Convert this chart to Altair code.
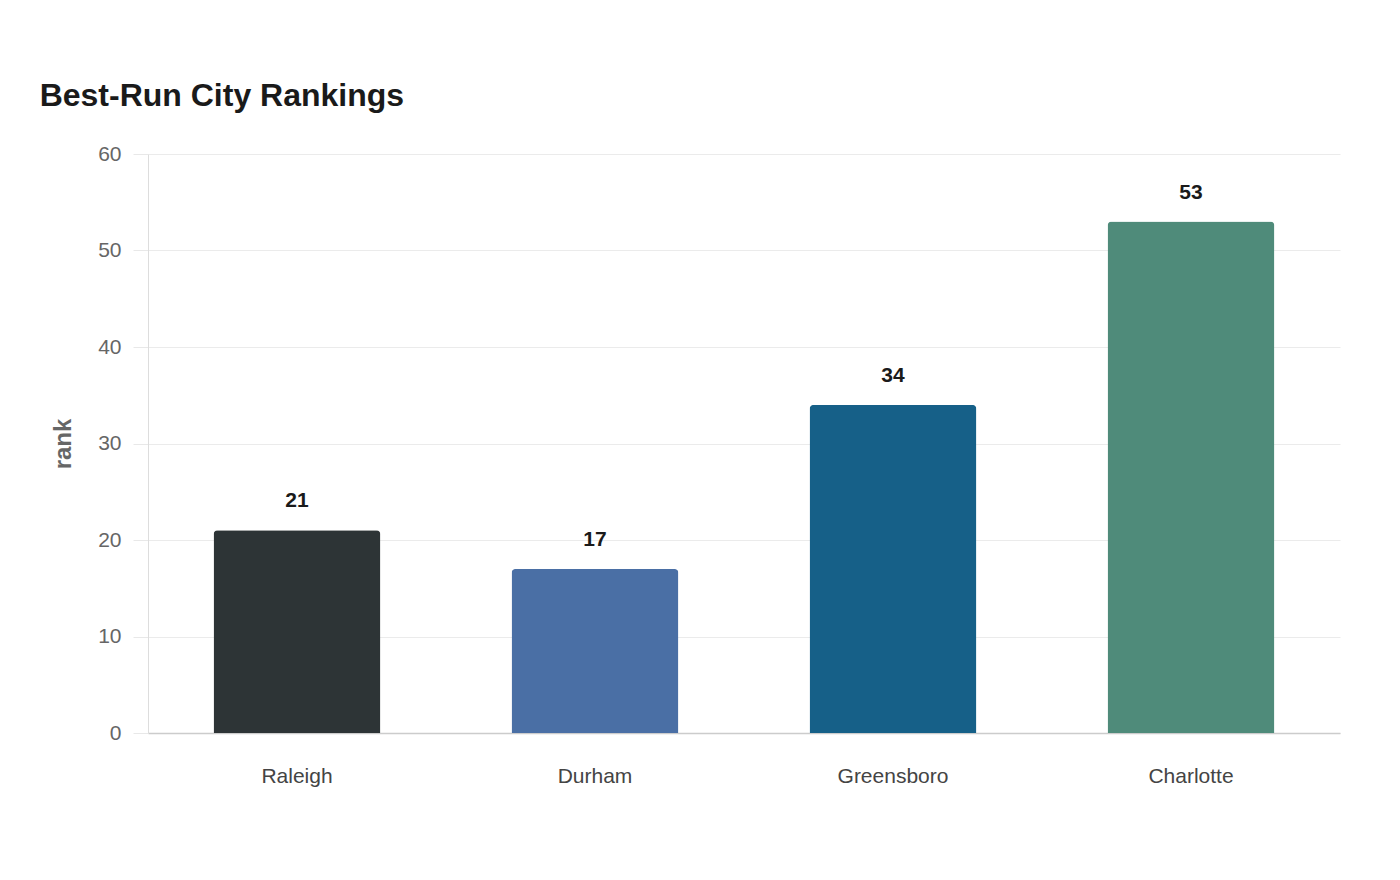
import altair as alt
import pandas as pd

cities = ["Raleigh", "Durham", "Greensboro", "Charlotte"]
ranks = [21, 17, 34, 53]
colors = ["#2d3436", "#4a6fa5", "#166088", "#4f8b7a"]

df = pd.DataFrame({"city": cities, "rank": ranks})

FONT = "Liberation Sans"

x_enc = alt.X(
    "city:N",
    sort=cities,
    title=None,
    scale=alt.Scale(paddingInner=0.44, paddingOuter=0.22),
    axis=alt.Axis(
        labelAngle=0,
        labelFontSize=21,
        labelColor="#444444",
        labelFont=FONT,
        labelPadding=32,
        ticks=False,
        domainColor="#cccccc",
        domainWidth=1.5,
        grid=False,
    ),
)

y_enc = alt.Y(
    "rank:Q",
    title="rank",
    scale=alt.Scale(domain=[0, 60]),
    axis=alt.Axis(
        values=[0, 10, 20, 30, 40, 50, 60],
        labelFontSize=21,
        labelColor="#666666",
        labelFont=FONT,
        labelPadding=12,
        tickSize=15,
        tickColor="#e8e8e8",
        domainColor="#dddddd",
        gridColor="#ebebeb",
        titleFontSize=24,
        titleFont=FONT,
        titleFontWeight="bold",
        titleColor="#666666",
        titlePadding=22,
    ),
)

bars = alt.Chart(df).mark_bar(cornerRadiusTopLeft=4, cornerRadiusTopRight=4).encode(
    x=x_enc,
    y=y_enc,
    color=alt.Color("city:N", scale=alt.Scale(domain=cities, range=colors), legend=None),
)

labels = alt.Chart(df).mark_text(
    dy=-29, fontSize=21, fontWeight="bold", font=FONT, color="#1a1a1a", baseline="middle"
).encode(
    x=alt.X("city:N", sort=cities),
    y=alt.Y("rank:Q"),
    text=alt.Text("rank:Q"),
)

chart = (
    alt.layer(bars, labels)
    .properties(
        width=1192,
        height=579,
        background="white",
        title=alt.TitleParams(
            "Best-Run City Rankings",
            anchor="start",
            font=FONT,
            fontSize=32,
            fontWeight="bold",
            color="#1a1a1a",
            dx=-12,
            offset=30,
        ),
        autosize=alt.AutoSizeParams(type="none"),
        padding={"left": 148, "top": 154, "right": 60, "bottom": 147},
    )
    .configure_view(strokeWidth=0)
)

chart.save("out.html", embed_options={"renderer": "svg", "actions": False})
